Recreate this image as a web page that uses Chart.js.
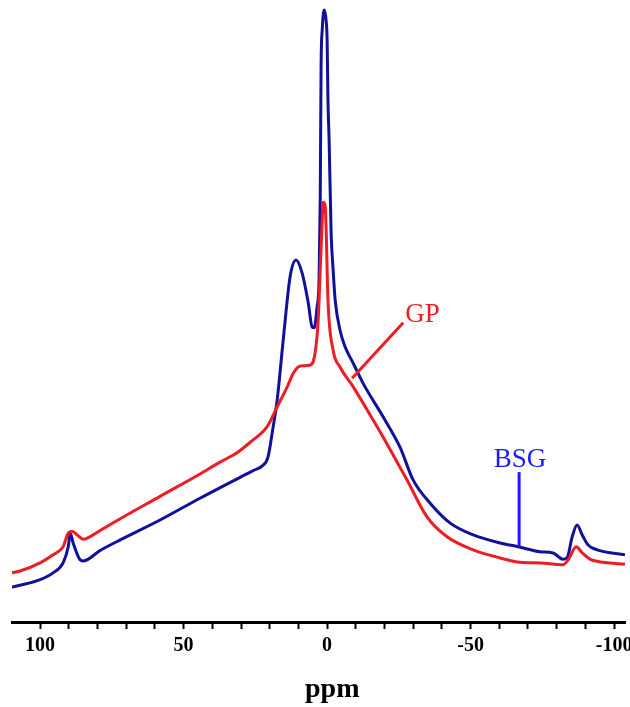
<!DOCTYPE html>
<html>
<head>
<meta charset="utf-8">
<title>NMR spectra</title>
<script src="https://cdn.jsdelivr.net/npm/chart.js@4.4.1/dist/chart.umd.min.js"></script>
<style>
    html, body { margin: 0; padding: 0; background: #fff; }
    #wrap { width: 630px; height: 707px; position: relative; }
</style>
</head>
<body>
<div id="wrap"><canvas id="nmrChart"></canvas></div>
<script>
// chemical shift (ppm) and intensity
var bsgPpm = [109.8, 107.0, 100.0, 95.5, 92.0, 90.2, 89.5, 88.5, 86.1, 85.0, 79.1, 72.1, 58.2, 44.3, 28.9, 25.5, 22.6, 20.6, 18.8, 17.4, 15.3, 12.9, 10.8, 8.7, 6.6, 5.2, 4.5, 3.5, 2.8, 2.4, 2.1, 1.7, 1.0, 0.3, 0.0, -0.3, -0.7, -1.4, -2.1, -2.8, -4.5, -6.3, -9.1, -12.5, -19.5, -25.4, -30.0, -35.9, -42.9, -50.9, -60.3, -66.6, -74.2, -78.7, -82.2, -83.6, -85.4, -87.1, -88.9, -90.9, -94.1, -103.8];
var bsgInt = [5.6, 5.9, 6.8, 7.9, 9.5, 12.1, 14.3, 12.7, 10.0, 9.8, 11.5, 13.2, 16.4, 19.9, 23.6, 24.4, 25.1, 26.5, 31.4, 35.7, 45.3, 55.5, 58.2, 56.1, 51.4, 47.4, 47.3, 50.6, 55.0, 67.8, 89.2, 95.2, 98.4, 96.5, 93.6, 83.9, 77.5, 62.5, 56.6, 51.8, 46.9, 44.2, 41.6, 38.4, 33.0, 28.1, 22.8, 19.1, 15.9, 14.0, 12.7, 12.1, 11.3, 11.1, 10.1, 10.3, 13.7, 15.6, 14.0, 12.4, 11.6, 10.8];

var gpPpm = [109.8, 107.0, 100.0, 95.5, 92.0, 90.2, 88.9, 87.1, 85.0, 81.5, 79.1, 72.1, 58.2, 44.3, 37.3, 32.8, 31.4, 26.8, 20.9, 17.4, 13.9, 11.8, 10.1, 8.4, 5.9, 4.2, 3.1, 2.4, 1.7, 1.4, 0.7, 0.3, -0.3, -2.1, -4.5, -9.1, -16.0, -22.0, -27.9, -34.8, -41.8, -50.9, -60.3, -67.2, -74.2, -82.2, -84.0, -86.8, -88.9, -91.6, -96.2, -103.8];
var gpInt = [7.9, 8.2, 9.5, 10.8, 12.1, 14.3, 14.6, 14.0, 13.3, 14.0, 14.7, 16.6, 20.2, 23.8, 25.7, 26.8, 27.2, 28.9, 31.4, 34.6, 37.8, 40.0, 41.0, 41.2, 41.3, 43.2, 48.6, 56.6, 64.6, 67.5, 67.0, 62.5, 51.8, 43.7, 41.0, 37.8, 32.5, 27.7, 22.8, 16.9, 13.7, 11.6, 10.3, 9.6, 9.5, 9.2, 10.0, 12.1, 11.1, 10.1, 9.6, 9.3];

var axisTicks = [100, 50, 0, -50, -100];

function toPoints(xs, ys) {
    return xs.map(function(x, i) { return { x: x, y: ys[i] }; });
}

// labels with leader lines, anchored in data coordinates
var labelPlugin = {
    id: 'curveLabels',
    afterDatasetsDraw: function(chart) {
        var ctx = chart.ctx;
        var xs = chart.scales.x, ys = chart.scales.y;
        function px(v) { return xs.getPixelForValue(v); }
        function py(v) { return ys.getPixelForValue(v); }
        ctx.save();
        ctx.lineWidth = 3;
        ctx.font = '27px "Liberation Serif", "Times New Roman", serif';
        ctx.textBaseline = 'alphabetic';

        // GP
        ctx.strokeStyle = '#ee1c24';
        ctx.fillStyle = '#ee1c24';
        ctx.beginPath();
        ctx.moveTo(px(-8.7), py(39.2));
        ctx.lineTo(px(-26.5), py(48.1));
        ctx.stroke();
        ctx.textAlign = 'left';
        ctx.fillText('GP', px(-27.2), py(48.2));

        // BSG
        ctx.strokeStyle = '#1a1aff';
        ctx.fillStyle = '#1a1aff';
        ctx.beginPath();
        ctx.moveTo(px(-66.9), py(12.1));
        ctx.lineTo(px(-66.9), py(24.1));
        ctx.stroke();
        ctx.textAlign = 'center';
        ctx.fillText('BSG', px(-67.2), py(24.9));

        // axis title
        ctx.fillStyle = '#000';
        ctx.font = 'bold 28px "Liberation Serif", "Times New Roman", serif';
        ctx.textAlign = 'center';
        ctx.fillText('ppm', px(-1.8), chart.height - 10);
        ctx.restore();
    }
};

var ctx = document.getElementById('nmrChart').getContext('2d');
var nmrChart = new Chart(ctx, {
    type: 'line',
    data: {
        datasets: [
            {
                label: 'GP',
                data: toPoints(gpPpm, gpInt),
                borderColor: '#ee1c24',
                borderWidth: 3,
                pointRadius: 0,
                cubicInterpolationMode: 'monotone',
                fill: false
            },
            {
                label: 'BSG',
                data: toPoints(bsgPpm, bsgInt),
                borderColor: '#10109a',
                borderWidth: 3,
                pointRadius: 0,
                cubicInterpolationMode: 'monotone',
                fill: false
            }
        ]
    },
    options: {
        responsive: true,
        maintainAspectRatio: false,
        animation: false,
        layout: { padding: { left: 12, right: 5, top: 0, bottom: 0 } },
        plugins: {
            legend: { display: false },
            tooltip: { enabled: false }
        },
        scales: {
            x: {
                type: 'linear',
                reverse: true,
                min: -103.8,
                max: 109.8,
                border: { display: true, color: '#000', width: 3 },
                grid: {
                    drawOnChartArea: false,
                    drawTicks: true,
                    tickLength: 7,
                    tickWidth: 2,
                    tickColor: '#000'
                },
                ticks: {
                    stepSize: 10,
                    includeBounds: false,
                    maxRotation: 0,
                    autoSkip: false,
                    padding: 5,
                    color: '#000',
                    font: { family: '"Liberation Serif", "Times New Roman", serif', size: 20, weight: 'bold' },
                    callback: function(v) { return axisTicks.indexOf(v) >= 0 ? String(v) : ''; }
                },
                afterFit: function(scale) {
                    scale.height = 85;
                    scale.paddingLeft = 0;
                    scale.paddingRight = 0;
                }
            },
            y: {
                display: false,
                min: 0,
                max: 100
            }
        }
    },
    plugins: [labelPlugin]
});
</script>
</body>
</html>
